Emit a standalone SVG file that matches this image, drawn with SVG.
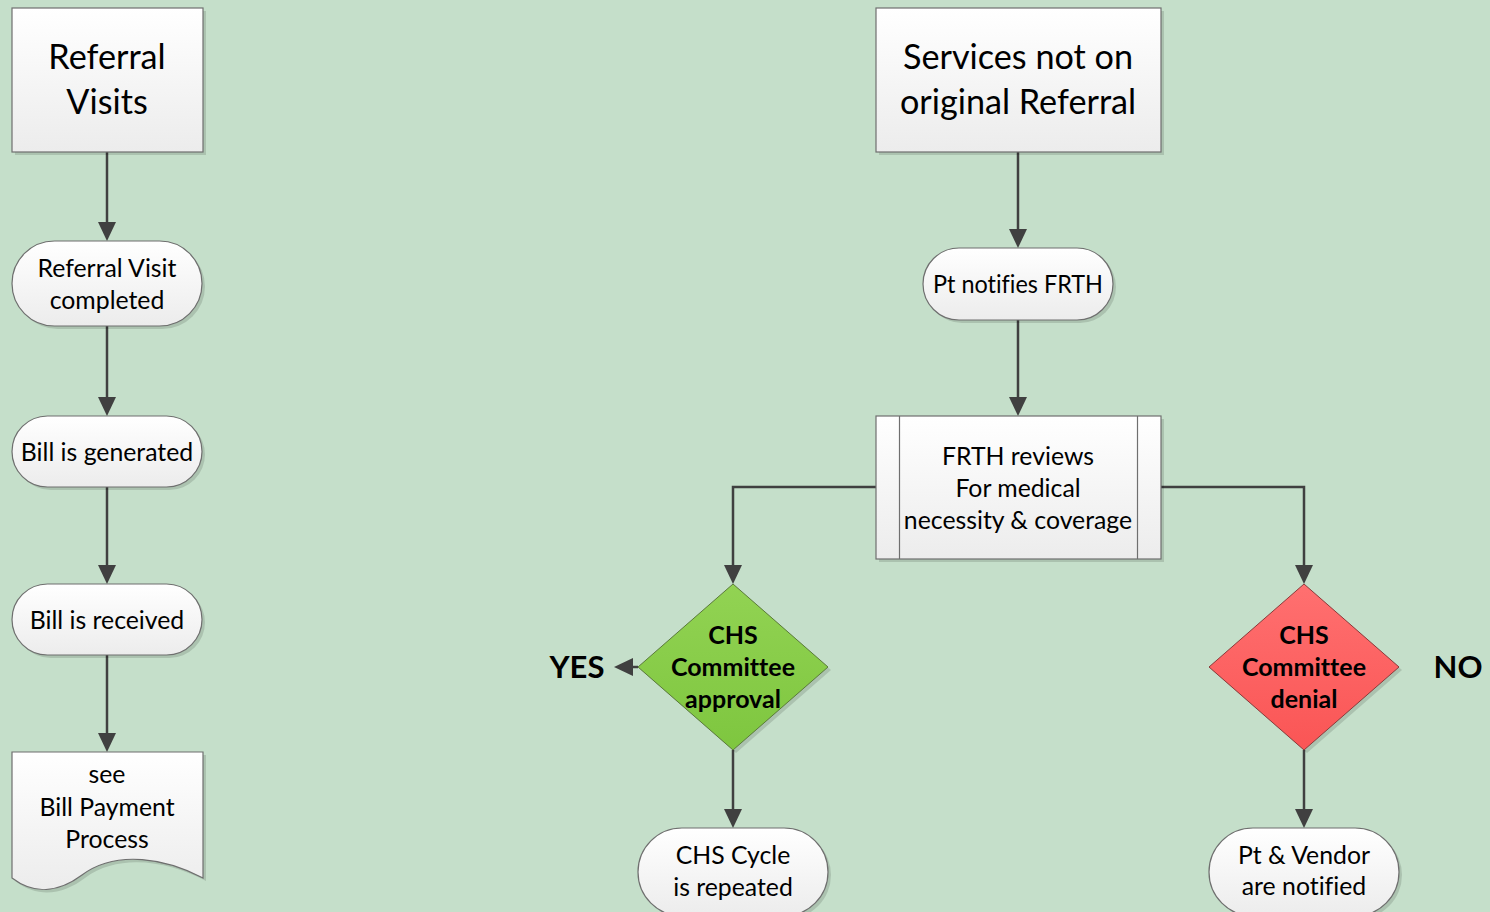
<svg xmlns="http://www.w3.org/2000/svg" width="1490" height="912" viewBox="0 0 1490 912">
<style>
  .bg { fill: #c5dfca; }
  .box { fill: url(#gW); stroke: #6f6f6f; stroke-width: 1.2; }
  .sh { fill: #000; opacity: 0.13; }
  .conn { fill: none; stroke: #404040; stroke-width: 2.5; }
  .t { font-family: Lato, "Open Sans", "Liberation Sans", sans-serif; fill: #000; text-anchor: middle; font-variant-ligatures: none; }
  .big { font-size: 34.2px; }
  .mid { font-size: 24.8px; }
  .bold { font-weight: bold; font-size: 25px; }
  .lab { font-weight: bold; font-size: 31px; }
  .inner { stroke: #6f6f6f; stroke-width: 1.2; }
  .ah { fill: #404040; }
</style>
<defs>
  <linearGradient id="gW" x1="0" y1="0" x2="0" y2="1">
    <stop offset="0" stop-color="#ffffff"/>
    <stop offset="1" stop-color="#ececec"/>
  </linearGradient>
  <linearGradient id="gG" x1="0" y1="0" x2="0" y2="1">
    <stop offset="0" stop-color="#92d353"/>
    <stop offset="1" stop-color="#7ec63f"/>
  </linearGradient>
  <linearGradient id="gR" x1="0" y1="0" x2="0" y2="1">
    <stop offset="0" stop-color="#ff7070"/>
    <stop offset="1" stop-color="#fa5555"/>
  </linearGradient>
</defs>
<rect class="bg" x="0" y="0" width="1490" height="912"/>

<g id="connectors">
  <line class="conn" x1="107" y1="152" x2="107" y2="226"/>
  <path class="ah" d="M98,222 L107,241 L116,222 z"/>
  <line class="conn" x1="107" y1="326" x2="107" y2="401"/>
  <path class="ah" d="M98,397 L107,416 L116,397 z"/>
  <line class="conn" x1="107" y1="487" x2="107" y2="569"/>
  <path class="ah" d="M98,565 L107,584 L116,565 z"/>
  <line class="conn" x1="107" y1="655" x2="107" y2="737"/>
  <path class="ah" d="M98,733 L107,752 L116,733 z"/>

  <line class="conn" x1="1018" y1="152" x2="1018" y2="233"/>
  <path class="ah" d="M1009,229 L1018,248 L1027,229 z"/>
  <line class="conn" x1="1018" y1="320" x2="1018" y2="401"/>
  <path class="ah" d="M1009,397 L1018,416 L1027,397 z"/>

  <polyline class="conn" points="876,487 733,487 733,569"/>
  <path class="ah" d="M724,565 L733,584 L742,565 z"/>
  <polyline class="conn" points="1161,487 1304,487 1304,569"/>
  <path class="ah" d="M1295,565 L1304,584 L1313,565 z"/>

  <line class="conn" x1="638" y1="667" x2="629" y2="667"/>
  <path class="ah" d="M633,658 L614,667 L633,676 z"/>

  <line class="conn" x1="733" y1="750" x2="733" y2="813"/>
  <path class="ah" d="M724,809 L733,828 L742,809 z"/>
  <line class="conn" x1="1304" y1="750" x2="1304" y2="813"/>
  <path class="ah" d="M1295,809 L1304,828 L1313,809 z"/>
</g>

<g id="referral-visits">
  <rect class="sh" x="15" y="11" width="191" height="144"/>
  <rect class="box" x="12" y="8" width="191" height="144"/>
  <text class="t big" x="107" y="69">Referral</text>
  <text class="t big" x="107" y="114">Visits</text>
</g>

<g id="visit-completed">
  <rect class="sh" x="15" y="244" width="190" height="85" rx="42.5"/>
  <rect class="box" x="12" y="241" width="190" height="85" rx="42.5"/>
  <text class="t mid" x="107" y="277">Referral Visit</text>
  <text class="t mid" x="107" y="309">completed</text>
</g>

<g id="bill-generated">
  <rect class="sh" x="15" y="419" width="190" height="71" rx="35.5"/>
  <rect class="box" x="12" y="416" width="190" height="71" rx="35.5"/>
  <text class="t mid" x="107" y="461">Bill is generated</text>
</g>

<g id="bill-received">
  <rect class="sh" x="15" y="587" width="190" height="71" rx="35.5"/>
  <rect class="box" x="12" y="584" width="190" height="71" rx="35.5"/>
  <text class="t mid" x="107" y="629">Bill is received</text>
</g>

<g id="bill-payment-doc">
  <path class="sh" d="M15,755 H206 V881 C170,862 120,852 85,878 C65,893 40,900 15,881 Z"/>
  <path class="box" d="M12,752 H203 V878 C167,859 117,849 82,875 C62,890 37,897 12,878 Z"/>
  <text class="t mid" x="107" y="783">see</text>
  <text class="t mid" x="107" y="816">Bill Payment</text>
  <text class="t mid" x="107" y="848">Process</text>
</g>

<g id="services-not-on-referral">
  <rect class="sh" x="879" y="11" width="285" height="144"/>
  <rect class="box" x="876" y="8" width="285" height="144"/>
  <text class="t big" x="1018" y="69">Services not on</text>
  <text class="t big" x="1018" y="114">original Referral</text>
</g>

<g id="pt-notifies">
  <rect class="sh" x="926" y="251" width="190" height="72" rx="36"/>
  <rect class="box" x="923" y="248" width="190" height="72" rx="36"/>
  <text class="t mid" x="1018" y="293" textLength="170" lengthAdjust="spacingAndGlyphs">Pt notifies FRTH</text>
</g>

<g id="frth-reviews">
  <rect class="sh" x="879" y="419" width="285" height="143"/>
  <rect class="box" x="876" y="416" width="285" height="143"/>
  <line class="inner" x1="899.5" y1="416" x2="899.5" y2="559"/>
  <line class="inner" x1="1137.5" y1="416" x2="1137.5" y2="559"/>
  <text class="t mid" x="1018" y="465">FRTH reviews</text>
  <text class="t mid" x="1018" y="497">For medical</text>
  <text class="t mid" x="1018" y="529">necessity &amp; coverage</text>
</g>

<g id="approval">
  <path class="sh" d="M736,587 L831,670 L736,753 L641,670 Z"/>
  <path d="M733,584 L828,667 L733,750 L638,667 Z" fill="url(#gG)" stroke="#5a7a3a" stroke-width="1"/>
  <text class="t bold" x="733" y="644">CHS</text>
  <text class="t bold" x="733" y="676">Committee</text>
  <text class="t bold" x="733" y="708">approval</text>
</g>

<g id="yes-label">
  <text class="t lab" x="577" y="678">YES</text>
</g>

<g id="denial">
  <path class="sh" d="M1307,587 L1402,670 L1307,753 L1212,670 Z"/>
  <path d="M1304,584 L1399,667 L1304,750 L1209,667 Z" fill="url(#gR)" stroke="#8a3a3a" stroke-width="1"/>
  <text class="t bold" x="1304" y="644">CHS</text>
  <text class="t bold" x="1304" y="676">Committee</text>
  <text class="t bold" x="1304" y="708">denial</text>
</g>

<g id="no-label">
  <text class="t lab" x="1458" y="678">NO</text>
</g>

<g id="chs-cycle">
  <rect class="sh" x="641" y="831" width="190" height="88" rx="44"/>
  <rect class="box" x="638" y="828" width="190" height="88" rx="44"/>
  <text class="t mid" x="733" y="864">CHS Cycle</text>
  <text class="t mid" x="733" y="896">is repeated</text>
</g>

<g id="pt-vendor-notified">
  <rect class="sh" x="1212" y="831" width="190" height="88" rx="44"/>
  <rect class="box" x="1209" y="828" width="190" height="88" rx="44"/>
  <text class="t mid" x="1304" y="864">Pt &amp; Vendor</text>
  <text class="t mid" x="1304" y="895">are notified</text>
</g>
</svg>
